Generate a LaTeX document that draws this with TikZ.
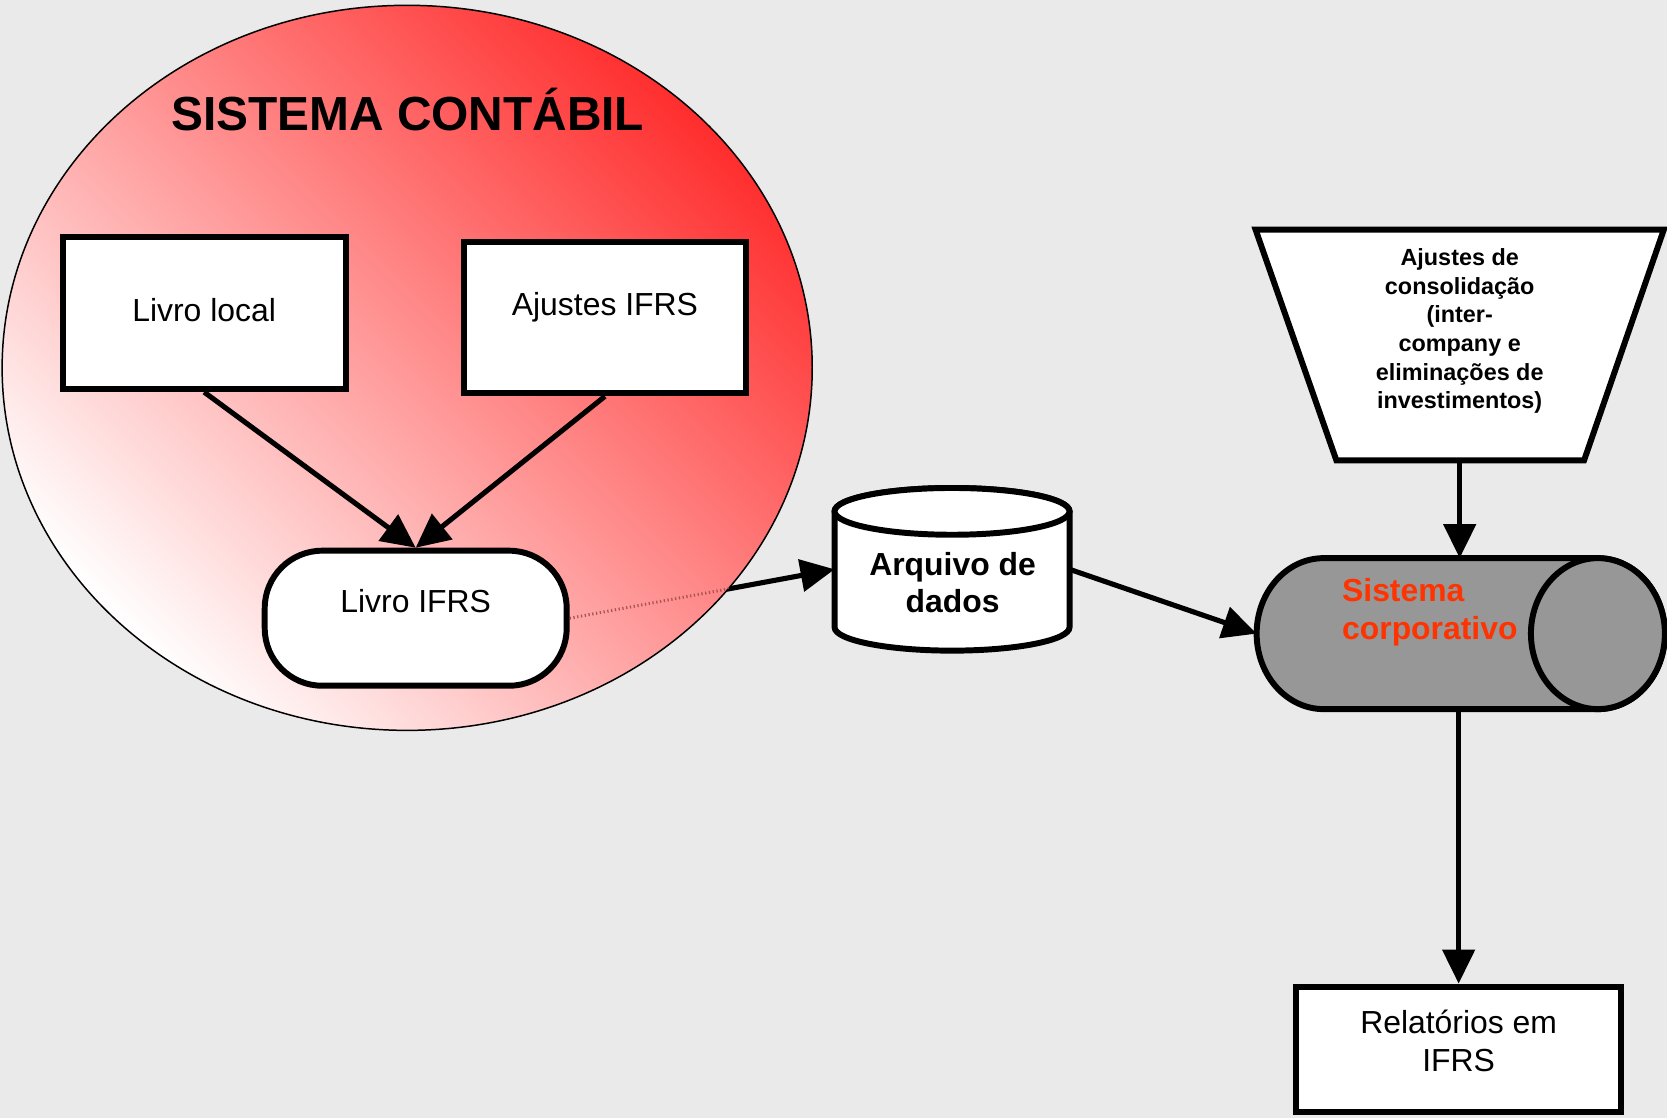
\documentclass[tikz,border=0pt]{standalone}
\usepackage{fontspec}
\setmainfont{Liberation Sans}
\usetikzlibrary{arrows.meta,calc}
\definecolor{bgc}{HTML}{EAEAEA}
\definecolor{redc}{HTML}{FF2E2E}
\definecolor{pinkc}{HTML}{FFB2B2}
\definecolor{grayc}{HTML}{979797}
\definecolor{orangec}{HTML}{FF3300}
\pgfdeclarelayer{back}\pgfdeclarelayer{mid}\pgfsetlayers{back,mid,main}
\begin{document}
\begin{tikzpicture}[x=0.5pt,y=0.5pt,
  boxst/.style={draw, line width=2.8pt, fill=white, inner sep=0pt},
  shapest/.style={draw, line width=2.8pt},
  conn/.style={line width=2.4pt, -{Triangle[length=16pt,width=15pt]}},
  lbl/.style={font=\fontsize{15}{18}\selectfont, align=center, inner sep=0pt},
  blbl/.style={font=\bfseries\fontsize{15}{17.5}\selectfont, align=center, inner sep=0pt},
  hidden/.style={inner sep=0pt, outer sep=0pt},
]
\begin{pgfonlayer}{back}
\fill[bgc] (0,0) rectangle (1568,-1052);
\end{pgfonlayer}
\useasboundingbox (0,0) rectangle (1568,-1052);

% container ellipse
\begin{pgfonlayer}{mid}
\shade[top color=redc, middle color=pinkc, bottom color=white, shading angle=-45] (383,-346) ellipse (381 and 341);
\draw[line width=0.7pt] (383,-346) ellipse (381 and 341);
\end{pgfonlayer}

\node[font=\bfseries\fontsize{22.5}{27}\selectfont, inner sep=0pt] (title) at (383.5,-103) {SISTEMA CONTÁBIL};

% boxes inside the ellipse
\node[boxst, minimum width=133pt, minimum height=71.5pt] (ll) at (192,-294.5) {};
\node[lbl] (lltext) at ($(ll.center)+(0,3)$) {Livro local};
\node[boxst, minimum width=133pt, minimum height=71pt] (aj) at (569,-299) {};
\node[lbl] (ajtext) at ($(aj.center)+(0,10)$) {Ajustes IFRS};
\node[boxst, rounded corners=27pt, minimum width=142pt, minimum height=63.5pt] (ifrs) at (391,-581.5) {};
\node[lbl] (ifrstext) at ($(ifrs.center)+(0,16)$) {Livro IFRS};

% data file cylinder
\node[hidden, minimum width=110.5pt, minimum height=76.5pt] (arq) at (895.5,-535.5) {};
\draw[shapest, fill=white] (785,-481) -- (785,-590) arc[start angle=180, end angle=360, x radius=110.5, y radius=22] -- (1006,-481) arc[start angle=0, end angle=180, x radius=110.5, y radius=22] -- cycle;
\draw[shapest, fill=white] (895.5,-481) ellipse (110.5 and 22);
\node[blbl] (arqtext) at (896,-548) {Arquivo de\\dados};

% consolidation adjustments (trapezoid)
\draw[shapest, fill=white] (1181,-216) -- (1565,-216) -- (1490,-433) -- (1257,-433) -- cycle;
\node[hidden, minimum width=192pt, minimum height=108.5pt] (tr) at (1373,-324.5) {};
\node[font=\bfseries\fontsize{11}{13.5}\selectfont, align=center, inner sep=0pt] (trtext) at (1373,-311.5) {Ajustes de\\consolidação\\(inter-\\company e\\eliminações de\\investimentos)};

% corporate system (horizontal cylinder)
\node[hidden, minimum width=192pt, minimum height=71pt] (sc) at (1374,-596) {};
\draw[shapest, fill=grayc] (1245,-525) -- (1503,-525) arc[start angle=90, end angle=-90, x radius=63, y radius=71] -- (1245,-667) arc[start angle=270, end angle=90, x radius=63, y radius=71] -- cycle;
\draw[shapest, fill=grayc] (1503,-596) ellipse (63 and 71);
\node[font=\bfseries\fontsize{15}{18}\selectfont, text=orangec, align=left, anchor=west, inner sep=0pt] (sctext) at (1262,-576) {Sistema\\corporativo};

% reports
\node[boxst, minimum width=153pt, minimum height=59pt] (rel) at (1372,-987) {};
\node[lbl] (reltext) at ($(rel.center)+(0,8)$) {Relatórios em\\IFRS};

% connectors
\draw[conn] (ll.south) -- (ifrs.north);
\draw[conn] (aj.south) -- (ifrs.north);
\begin{pgfonlayer}{back}
\draw[conn] (ifrs.east) -- (arq.west);
\end{pgfonlayer}
\begin{pgfonlayer}{mid}
\begin{scope}
\clip (383,-346) ellipse (381 and 341);
\draw[draw=red!35!gray, line width=1.4pt, dash pattern=on 0.6pt off 1.2pt] (ifrs.east) -- (arq.west);
\end{scope}
\end{pgfonlayer}
\draw[conn] (arq.east) -- (sc.west);
\draw[conn] (tr.south) -- (tr.south |- sc.north);
\draw[conn] (rel.north |- sc.south) -- (rel.north);
\end{tikzpicture}
\end{document}
